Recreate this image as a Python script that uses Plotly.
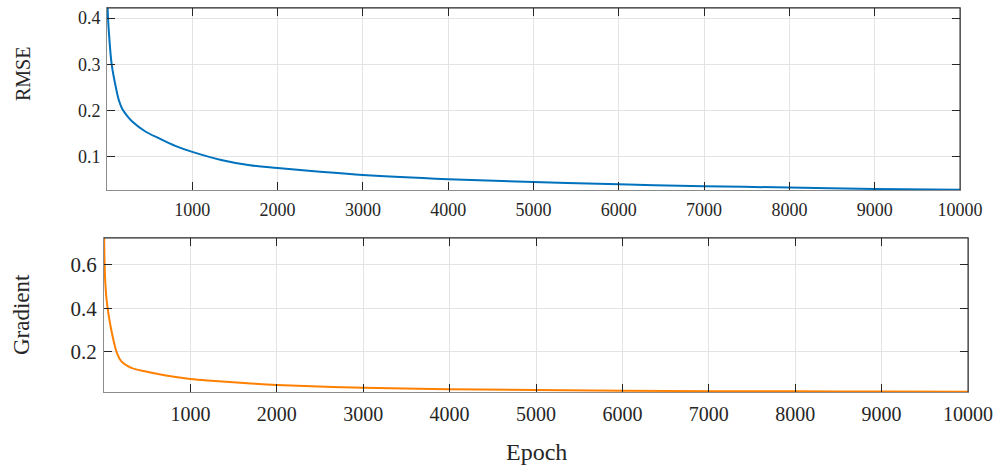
import plotly.graph_objects as go

# ---- data ----
rmse_epoch = [0, 12, 27, 55, 102, 140, 181, 240, 299, 450, 612, 800, 1000, 1338, 1676, 2000,
              2500, 3000, 4000, 5000, 6000, 7000, 8000, 9000, 10000]
rmse_value = [0.46, 0.40, 0.357, 0.30, 0.252, 0.222, 0.203, 0.188, 0.176, 0.155, 0.140, 0.124,
              0.111, 0.0935, 0.082, 0.076, 0.068, 0.061, 0.052, 0.046, 0.041, 0.037, 0.034,
              0.031, 0.029]

grad_epoch = [0, 6, 15, 30, 50, 80, 115, 150, 201, 317, 471, 700, 1000, 1281, 1700, 2000,
              3000, 4000, 5000, 6000, 7000, 8000, 9000, 10000]
grad_value = [0.78, 0.62, 0.52, 0.44, 0.38, 0.31, 0.245, 0.195, 0.157, 0.127, 0.111, 0.093,
              0.076, 0.067, 0.055, 0.048, 0.035, 0.029, 0.025, 0.022, 0.020, 0.019, 0.018,
              0.017]

x_ticks = [1000, 2000, 3000, 4000, 5000, 6000, 7000, 8000, 9000, 10000]
x_ticktext = ["1000", "2000", "3000", "4000", "5000", "6000", "7000", "8000", "9000", "10000"]
rmse_ticks = [0.1, 0.2, 0.3, 0.4]
rmse_ticktext = ["0.1", "0.2", "0.3", "0.4"]
grad_ticks = [0.2, 0.4, 0.6]
grad_ticktext = ["0.2", "0.4", "0.6"]

FONT = "Liberation Serif"
BLUE = "#0072BD"
ORANGE = "#FF8000"
GRID = "#e3e3e3"
AX_LIGHT = "#8c8c8c"
AX_DARK = "#262626"

fig = go.Figure()
fig.add_trace(go.Scatter(x=rmse_epoch, y=rmse_value, mode="lines",
                         line=dict(color=BLUE, width=2, shape="spline", smoothing=1.0),
                         xaxis="x", yaxis="y", showlegend=False))
fig.add_trace(go.Scatter(x=grad_epoch, y=grad_value, mode="lines",
                         line=dict(color=ORANGE, width=2, shape="spline", smoothing=1.0),
                         xaxis="x2", yaxis="y2", showlegend=False))

common_x = dict(range=[0, 10000], tickvals=x_ticks, ticktext=x_ticktext, ticks="inside",
                ticklen=8, tickcolor=AX_DARK, showgrid=True, gridcolor=GRID, gridwidth=1,
                showline=True, linecolor=AX_LIGHT, linewidth=1, mirror="ticks",
                zeroline=False, automargin=False)
common_y = dict(ticks="inside", ticklen=8, tickcolor=AX_DARK, showgrid=True,
                gridcolor=GRID, gridwidth=1, showline=True, linecolor=AX_LIGHT,
                linewidth=1, mirror="ticks", zeroline=False, automargin=False)

fig.update_layout(
    width=1000, height=470,
    margin=dict(l=0, r=0, t=0, b=0),
    paper_bgcolor="white", plot_bgcolor="white",
    font=dict(family=FONT, color=AX_DARK),
    xaxis=dict(domain=[0.107, 0.960], anchor="y", ticklabelstandoff=3,
               tickfont=dict(size=18, family=FONT, color=AX_DARK), **common_x),
    yaxis=dict(domain=[1 - 190 / 470, 1 - 8 / 470], anchor="x", ticklabelstandoff=2,
               range=[0.0287, 0.4216], tickvals=rmse_ticks, ticktext=rmse_ticktext,
               tickfont=dict(size=18, family=FONT, color=AX_DARK), **common_y),
    xaxis2=dict(domain=[0.104, 0.968], anchor="y2", ticklabelstandoff=4,
                tickfont=dict(size=20, family=FONT, color=AX_DARK), **common_x),
    yaxis2=dict(domain=[1 - 392 / 470, 1 - 238 / 470], anchor="x2", ticklabelstandoff=2,
                range=[0.016, 0.724], tickvals=grad_ticks, ticktext=grad_ticktext,
                tickfont=dict(size=21, family=FONT, color=AX_DARK), **common_y),
)

# dark top/right frame edges (MATLAB-like box)
for xr, yr in (("x domain", "y domain"), ("x2 domain", "y2 domain")):
    fig.add_shape(type="line", xref=xr, yref=yr, x0=0, x1=1, y0=1, y1=1,
                  line=dict(color=AX_DARK, width=1))
    fig.add_shape(type="line", xref=xr, yref=yr, x0=1, x1=1, y0=0, y1=1,
                  line=dict(color=AX_DARK, width=1))

fig.add_annotation(text="RMSE", xref="paper", yref="paper", x=23 / 1000, y=1 - 74 / 470,
                   xanchor="center", yanchor="middle",
                   showarrow=False, textangle=-90, font=dict(size=20, family=FONT, color=AX_DARK))
fig.add_annotation(text="Gradient", xref="paper", yref="paper", x=21 / 1000, y=1 - 315 / 470,
                   xanchor="center", yanchor="middle",
                   showarrow=False, textangle=-90, font=dict(size=23, family=FONT, color=AX_DARK))
fig.add_annotation(text="Epoch", xref="paper", yref="paper", x=536 / 1000, y=1 - 452 / 470,
                   xanchor="center", yanchor="middle",
                   showarrow=False, font=dict(size=24, family=FONT, color=AX_DARK))

fig.write_html("out.html", config={"displayModeBar": False},
               post_script="document.body.style.margin='0';document.body.style.padding='0';")
